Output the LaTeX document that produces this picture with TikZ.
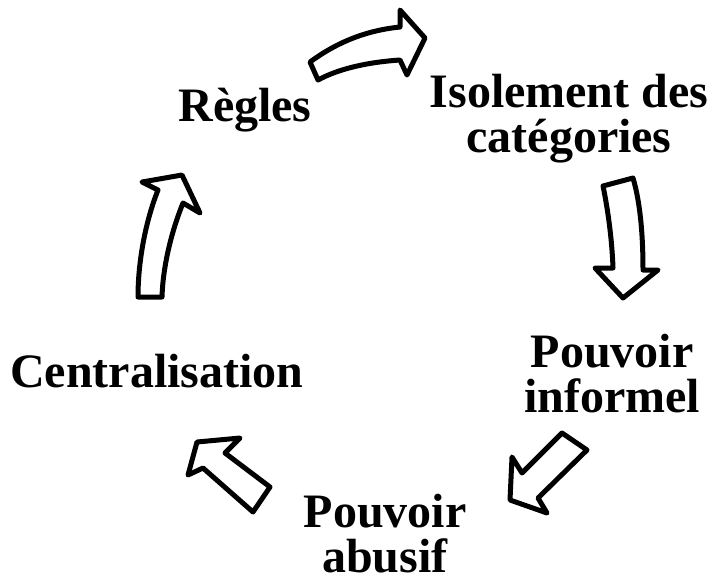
\documentclass[tikz,border=0pt]{standalone}
\usepackage{fontspec}
\setmainfont{Liberation Serif}
\usetikzlibrary{positioning}

\begin{document}
\begin{tikzpicture}[x=1pt, y=-1pt,
  stage/.style={font=\fontsize{48}{45}\selectfont\bfseries, align=center,
                inner sep=0pt, anchor=base},
  blockarrow/.style={draw=black, fill=white, line width=5pt, line join=round},
]
\useasboundingbox (0,0) rectangle (711,582);

% Stages of the cycle (base = last line)
\node[stage] (regles)  at (245,121) {Règles};
\node[stage] (isol)    at (569,152) {Isolement des\\catégories};
\node[stage] (pinf)    at (612,412) {Pouvoir\\informel};
\node[stage] (pabus)   at (385,572) {Pouvoir\\abusif};
\node[stage] (central) at (157,387) {Centralisation};

% Block arrows between the stages
\draw[blockarrow] (310,62) .. controls (340,40) and (370,30) .. (400,27)
  -- (400,10) -- (425,38) -- (407,75) -- (400,60)
  .. controls (370,62) and (340,68) .. (318,80) -- cycle;
\draw[blockarrow] (633,178) .. controls (641,205) and (643,240) .. (643,270)
  -- (658,270) -- (623,298) -- (595,268) -- (613,268)
  .. controls (612,240) and (608,210) .. (603,186) -- cycle;
\draw[blockarrow] (587,450) -- (538,498) -- (547,513) -- (510,500)
  -- (512,457) -- (522,473) -- (562,433) -- cycle;
\draw[blockarrow] (253,512) -- (203,468) -- (188,475) -- (197,442)
  -- (240,438) -- (225,453) -- (270,487) -- cycle;
\draw[blockarrow] (138,297) .. controls (138,260) and (146,220) .. (158,190)
  -- (142,182) -- (182,175) -- (200,213) -- (183,203)
  .. controls (172,230) and (163,265) .. (162,297) -- cycle;
\end{tikzpicture}
\end{document}
